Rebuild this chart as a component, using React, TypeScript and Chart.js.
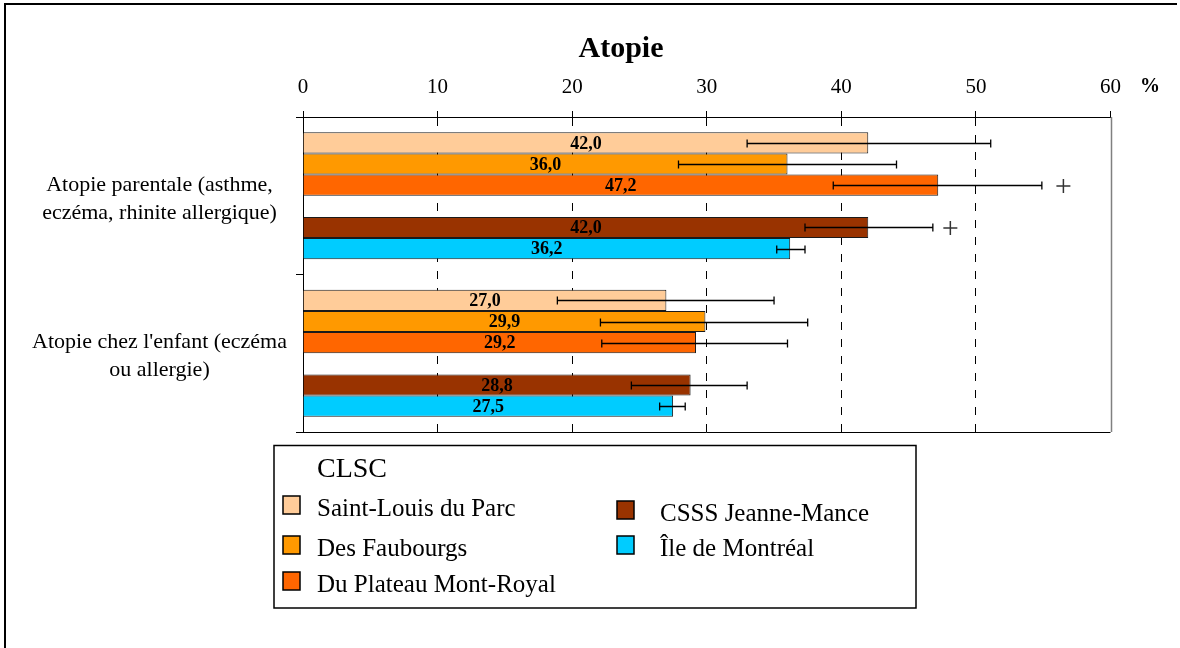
import React, { useEffect, useRef } from "react";
import { Chart, registerables } from "chart.js";

Chart.register(...registerables);

// ---------- data ----------
const categories: string[][] = [
  ["Atopie parentale (asthme,", "eczéma, rhinite allergique)"],
  ["Atopie chez l'enfant (eczéma", "ou allergie)"],
];
const seriesNames = [
  "Saint-Louis du Parc",
  "Des Faubourgs",
  "Du Plateau Mont-Royal",
  "CSSS Jeanne-Mance",
  "Île de Montréal",
];
const seriesColors = ["#FFCC99", "#FF9900", "#FF6600", "#993300", "#00CCFF"];

const saintLouis = [42.0, 27.0];
const saintLouisLow = [33.0, 18.9];
const saintLouisHigh = [51.1, 35.0];

const faubourgs = [36.0, 29.9];
const faubourgsLow = [27.9, 22.1];
const faubourgsHigh = [44.1, 37.5];

const plateau = [47.2, 29.2];
const plateauLow = [39.4, 22.2];
const plateauHigh = [54.9, 36.0];
const plateauPlus: (number | null)[] = [56.5, null];

const csss = [42.0, 28.8];
const csssLow = [37.3, 24.4];
const csssHigh = [46.8, 33.0];
const csssPlus: (number | null)[] = [48.1, null];

const ile = [36.2, 27.5];
const ileLow = [35.2, 26.5];
const ileHigh = [37.3, 28.4];
const ilePlus: (number | null)[] = [null, null];

const xMin = 0;
const xMax = 60;
const xStep = 10;
const chartTitle = "Atopie";
const unitLabel = "%";
const legendTitle = "CLSC";

const SERIF = "'Liberation Serif', 'Times New Roman', serif";

type Extra = { low: number[]; high: number[]; plus: (number | null)[]; gap?: boolean };

const seriesValues = [saintLouis, faubourgs, plateau, csss, ile];
const seriesLow = [saintLouisLow, faubourgsLow, plateauLow, csssLow, ileLow];
const seriesHigh = [saintLouisHigh, faubourgsHigh, plateauHigh, csssHigh, ileHigh];
const seriesPlus = [[null, null], [null, null], plateauPlus, csssPlus, ilePlus];

function buildDatasets() {
  const ds: any[] = seriesValues.map((vals, i) => ({
    label: seriesNames[i],
    data: vals,
    backgroundColor: seriesColors[i],
    borderColor: "#1a1a1a",
    borderWidth: 1,
    extra: { low: seriesLow[i], high: seriesHigh[i], plus: seriesPlus[i] } as Extra,
  }));
  // empty slot between the CLSC group and the comparison group
  ds.splice(3, 0, {
    label: "",
    data: [null, null],
    backgroundColor: "rgba(0,0,0,0)",
    borderWidth: 0,
    extra: { low: [], high: [], plus: [], gap: true } as Extra,
  });
  return ds;
}

const fmt = (v: number) => v.toFixed(1).replace(".", ",");

const overlayPlugin = {
  id: "overlay",
  beforeDraw(chart: any) {
    const ctx = chart.ctx;
    ctx.save();
    ctx.fillStyle = "#ffffff";
    ctx.fillRect(0, 0, chart.width, chart.height);
    // outer frame (top and left edges)
    ctx.strokeStyle = "#000";
    ctx.lineWidth = 2;
    ctx.beginPath();
    ctx.moveTo(5, chart.height);
    ctx.lineTo(5, 4);
    ctx.lineTo(1177, 4);
    ctx.stroke();
    ctx.restore();
  },
  beforeDatasetsDraw(chart: any) {
    const ctx = chart.ctx;
    const { top, bottom, left, right } = chart.chartArea;
    const xs = chart.scales.x;
    ctx.save();
    // solid grey line at max
    const xr = Math.round(xs.getPixelForValue(xMax)) + 0.5;
    ctx.strokeStyle = "#808080";
    ctx.lineWidth = 1.5;
    ctx.beginPath();
    ctx.moveTo(xr, top);
    ctx.lineTo(xr, bottom);
    ctx.stroke();
    // bottom line
    ctx.strokeStyle = "#000";
    ctx.lineWidth = 1;
    ctx.beginPath();
    ctx.moveTo(left, Math.round(bottom) + 0.5);
    ctx.lineTo(right, Math.round(bottom) + 0.5);
    ctx.stroke();
    ctx.restore();
  },
  afterDatasetsDraw(chart: any) {
    const ctx = chart.ctx;
    const xs = chart.scales.x;
    ctx.save();
    chart.data.datasets.forEach((d: any, di: number) => {
      const ex: Extra = d.extra;
      if (!ex || ex.gap) return;
      const meta = chart.getDatasetMeta(di);
      meta.data.forEach((bar: any, j: number) => {
        const v = d.data[j];
        if (v == null) return;
        const y = bar.y;
        // value label
        ctx.fillStyle = "#000";
        ctx.font = `bold 18px ${SERIF}`;
        ctx.textAlign = "center";
        ctx.textBaseline = "middle";
        ctx.fillText(fmt(v), (bar.base + bar.x) / 2, y + 1);
        // error bar
        const lo = ex.low[j];
        const hi = ex.high[j];
        if (lo != null && hi != null) {
          const x1 = xs.getPixelForValue(lo);
          const x2 = xs.getPixelForValue(hi);
          const yy = Math.round(y) + 0.5;
          ctx.strokeStyle = "#000";
          ctx.lineWidth = 1.3;
          ctx.beginPath();
          ctx.moveTo(x1, yy);
          ctx.lineTo(x2, yy);
          ctx.moveTo(x1, yy - 4);
          ctx.lineTo(x1, yy + 4);
          ctx.moveTo(x2, yy - 4);
          ctx.lineTo(x2, yy + 4);
          ctx.stroke();
        }
        // significance marker
        const p = ex.plus[j];
        if (p != null) {
          const px = xs.getPixelForValue(p);
          const py = Math.round(y) + 1;
          ctx.strokeStyle = "#333";
          ctx.lineWidth = 1.5;
          ctx.beginPath();
          ctx.moveTo(px - 7, py);
          ctx.lineTo(px + 7, py);
          ctx.moveTo(px, py - 7);
          ctx.lineTo(px, py + 7);
          ctx.stroke();
        }
      });
    });
    ctx.restore();
  },
  afterDraw(chart: any) {
    const ctx = chart.ctx;
    ctx.save();
    // title
    ctx.fillStyle = "#000";
    ctx.font = `bold 30px ${SERIF}`;
    ctx.textAlign = "center";
    ctx.textBaseline = "middle";
    ctx.fillText(chartTitle, 621, 49);
    // unit
    ctx.font = `bold 20px ${SERIF}`;
    ctx.fillText(unitLabel, 1150, 87);

    // legend box
    ctx.strokeStyle = "#000";
    ctx.lineWidth = 1.5;
    ctx.strokeRect(274, 445.5, 642, 162.5);
    ctx.textAlign = "left";
    ctx.textBaseline = "alphabetic";
    ctx.font = `28px ${SERIF}`;
    ctx.fillText(legendTitle, 317, 477);

    const dsets = chart.data.datasets.filter((d: any) => !d.extra.gap);
    const col1 = { sx: 283, tx: 317, rows: [505, 545, 581] };
    const col2 = { sx: 617, tx: 660, rows: [510, 545] };
    ctx.font = `25px ${SERIF}`;
    dsets.forEach((d: any, i: number) => {
      const col = i < 3 ? col1 : col2;
      const cy = i < 3 ? col.rows[i] : col.rows[i - 3];
      ctx.fillStyle = d.backgroundColor;
      ctx.fillRect(col.sx, cy - 9, 17, 18);
      ctx.strokeStyle = "#000";
      ctx.lineWidth = 1.5;
      ctx.strokeRect(col.sx, cy - 9, 17, 18);
      ctx.fillStyle = "#000";
      ctx.fillText(d.label, col.tx, cy + 11);
    });
    ctx.restore();
  },
};

export default function App() {
  const canvasRef = useRef<HTMLCanvasElement | null>(null);

  useEffect(() => {
    if (!canvasRef.current) return;
    const chart = new Chart(canvasRef.current, {
      type: "bar",
      data: {
        labels: categories as any,
        datasets: buildDatasets(),
      },
      options: {
        indexAxis: "y",
        animation: false,
        responsive: false,
        events: [],
        layout: { padding: { top: 0, left: 0, right: 69.5, bottom: 216 } },
        datasets: {
          bar: { categoryPercentage: 0.806, barPercentage: 1 },
        },
        plugins: {
          legend: { display: false },
          title: { display: false },
          tooltip: { enabled: false },
        },
        scales: {
          x: {
            type: "linear",
            position: "top",
            min: xMin,
            max: xMax,
            afterFit: (s: any) => {
              s.height = 117;
            },
            ticks: {
              stepSize: xStep,
              color: "#000",
              padding: 11,
              font: { family: SERIF, size: 21 },
            },
            grid: {
              color: (c: any) =>
                c.tick && (c.tick.value === xMin || c.tick.value === xMax) ? "rgba(0,0,0,0)" : "#000",
              lineWidth: 1,
              tickColor: "#000",
              tickLength: 6,
              drawTicks: true,
            },
            border: { display: true, color: "#000", width: 1, dash: [8, 9] },
          },
          y: {
            type: "category",
            offset: true,
            afterFit: (s: any) => {
              s.width = 303;
            },
            ticks: {
              color: "#000",
              padding: 9,
              labelOffset: 3,
              crossAlign: "center",
              font: { family: SERIF, size: 22, lineHeight: 1.27 },
            },
            grid: {
              offset: true,
              drawOnChartArea: false,
              tickLength: 7,
              tickColor: "#000",
              color: "#000",
            },
            border: { display: true, color: "#000", width: 1 },
          },
        },
      } as any,
      plugins: [overlayPlugin],
    });
    return () => chart.destroy();
  }, []);

  return (
    <div style={{ position: "absolute", left: 0, top: 0, width: 1180, height: 648, background: "#fff" }}>
      <canvas ref={canvasRef} width={1180} height={648} style={{ display: "block" }} />
    </div>
  );
}
